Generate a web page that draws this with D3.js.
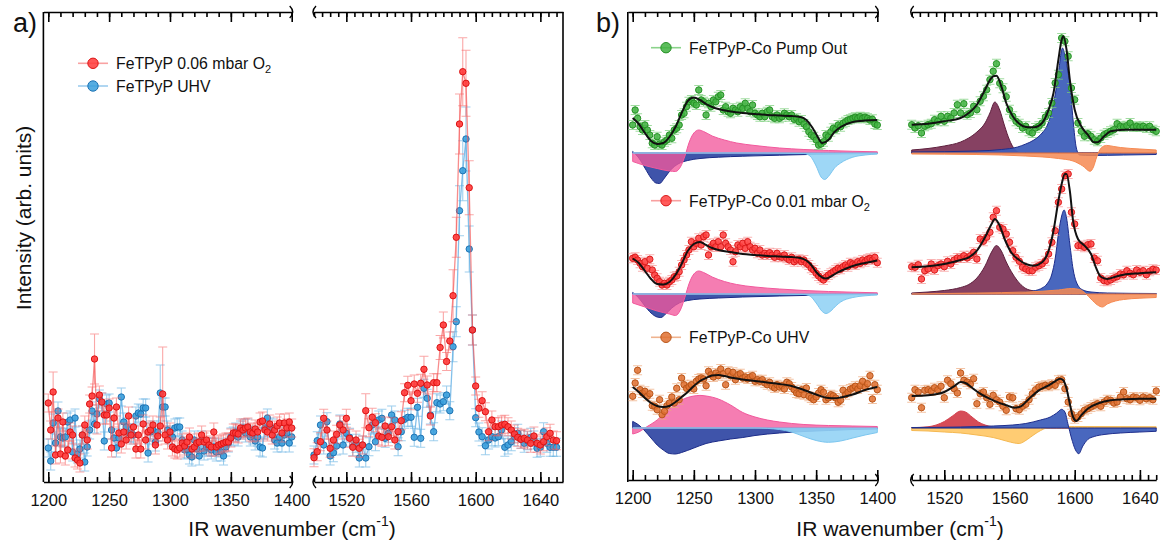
<!DOCTYPE html>
<html><head><meta charset="utf-8">
<script src="https://cdn.jsdelivr.net/npm/d3@7"></script>
<style>
body{margin:0;background:#fff}
svg{display:block}
text{font-family:"Liberation Sans",Arial,Helvetica,sans-serif;fill:#111}
</style></head>
<body><svg id="c" width="1160" height="545"></svg>
<script>
// ---------------- DATA ----------------
// wavenumber grids (cm^-1)
const wLeft = d3.range(1200, 1401, 2);   // 101 points
const wRight = d3.range(1500, 1651, 2);  // 76 points

// Panel a  (arb. units)
const aRedLeft = [7.9,5.2,9.0,2.7,6.4,2.8,6.0,2.6,3.2,5.0, 4.7,2.4,2.2,1.9,4.7,5.7,4.2,7.8,8.6,12.3, 5.7,8.7,8.0,6.7,6.7,7.4,3.4,6.4,7.5,4.9, 3.8,5.0,4.2,6.6,4.7,5.5,3.3,4.7,3.3,5.8, 4.2,5.0,5.2,5.7,3.7,4.6,5.6,8.8,4.7,4.2, 5.0,3.5,3.3,3.2,3.4,3.9,3.6,4.0,4.5,3.3, 3.5,3.9,4.0,4.7,4.0,4.2,3.7,3.5,5.0,3.5, 3.7,3.8,3.9,4.0,4.0,4.4,4.9,4.9,4.8,5.4, 5.2,5.4,5.5,5.0,4.9,5.3,5.0,6.0,6.1,5.2, 5.0,5.8,4.7,5.2,5.6,5.9,4.9,5.9,5.4,6.0, 5.4];
const aBlueLeft = [3.4,2.1,5.9,3.9,7.1,4.5,4.4,4.5,6.0,6.2, 3.0,6.4,2.8,3.3,4.7,2.0,3.5,5.2,7.1,5.8, 6.8,8.3,8.0,4.1,7.8,7.9,5.2,4.4,3.4,4.4, 8.5,6.0,5.5,4.9,4.9,4.7,6.6,6.9,6.8,7.4, 7.4,2.9,5.0,5.2,4.0,5.0,8.9,7.5,7.5,5.2, 4.7,4.5,5.4,5.5,5.5,4.2,3.2,3.3,2.7,2.5, 4.2,3.3,2.6,4.2,3.1,3.5,3.5,3.2,3.5,3.0, 3.4,3.0,2.6,3.5,3.9,4.5,4.6,5.0,4.5,5.2, 5.4,4.9,5.4,4.5,4.7,4.1,4.5,3.5,3.4,5.4, 6.4,5.5,5.4,4.2,3.9,4.5,3.9,4.7,4.9,3.9, 4.5];
const aRedRight = [2.43,3.03,4.03,6.37,5.2,3.37,4.2,4.77,5.7,5.2, 6.37,4.37,3.47,4.2,3.37,3.7,7.13,5.43,6.47,5.93, 4.6,4.47,5.6,4.53,5.53,4.2,5.03,6.13,8.93,9.67, 8.13,9.8,8.87,9.87,11.27,9.7,6.6,9.93,9.93,13.45, 15.7,12.05,14.1,18.63,24.47,35.8,41.03,39.87,29.43,15.2, 9.6,7.37,8.13,7.03,5.03,6.2,5.53,5.53,5.7,5.77, 5.53,5.2,4.8,4.47,4.27,4.37,4.2,3.87,4.6,3.87, 3.7,4.03,4.53,4.87,4.2,4.13];
const aBlueRight = [2.7,4.13,5.7,3.7,6.03,2.6,2.93,3.6,5.8,3.7, 4.87,4.47,3.53,3.87,2.4,3.7,2.4,3.53,5.7,4.03, 6.2,6.37,4.37,4.87,6.7,6.2,3.53,5.03,6.27,6.47, 6.47,4.47,7.47,4.37,9.37,8.37,6.7,5.03,7.93,7.8, 8.03,8.7,7.13,13.53,16.03,27.13,31.13,34.3,23.3,15.2, 6.43,5.0,4.53,3.63,4.2,4.53,4.4,4.53,5.2,3.47, 3.7,4.03,4.53,4.87,4.27,3.87,4.13,4.47,4.2,3.37, 3.47,5.03,3.87,3.47,3.47,3.47];
// error bars: typical value + larger ones read individually
const aErrRed = 0.9, aErrBlue = 0.9;
const aErrRedPeaks = [[1204,2.0],[1238,2.5],[1294,4.7],[1532,1.7],[1568,1.3],[1578,1.2],[1580,1.3],[1586,2.6],[1588,2.0],[1590,3.0],[1592,3.4],[1594,3.3],[1596,2.7],[1598,1.5]];
const aErrBluePeaks = [[1292,2.8],[1586,1.5],[1588,1.5],[1590,2.5],[1592,3.0],[1594,3.2],[1596,2.3],[1598,1.5]];

// Panel b : vertical offsets of the three stacked spectra
const bOffsets = [32.9, 18.8, 5.4];   // Pump Out, 0.01 mbar O2, UHV
const bGreenLeft = [2.8,4.3,3.47,2.63,2.3,2.8,2.3,1.8,0.97,0.8, 1.63,0.9,0.8,1.13,1.3,1.8,1.47,2.3,2.47,2.8, 3.8,3.97,4.63,5.13,5.3,4.97,4.8,6.3,5.3,5.13, 3.8,4.97,4.63,5.3,5.13,5.63,5.8,4.3,4.63,4.13, 3.97,4.47,4.3,4.13,4.63,4.47,4.97,4.47,4.13,4.8, 3.97,3.8,3.63,3.97,3.63,4.13,4.3,3.63,3.47,3.8, 3.47,3.63,3.97,3.8,3.63,3.8,3.37,3.47,3.13,3.3, 2.9,2.63,2.13,1.8,1.63,1.3,0.8,0.9,1.13,1.8, 1.63,2.13,2.47,2.37,2.8,2.63,2.97,3.13,3.3,3.37, 3.47,3.57,3.47,3.63,3.47,3.57,3.47,3.3,3.37,2.9, 2.8];
const bRedLeft = [3.57,3.67,3.4,3.07,2.73,3.23,2.57,3.47,2.4,1.9, 1.57,1.23,0.9,1.07,0.9,1.23,1.4,1.73,1.8,2.23, 2.9,3.4,3.9,4.4,5.23,4.73,5.07,5.57,4.9,5.73, 5.9,3.9,4.73,5.07,4.73,5.23,4.73,5.9,5.07,4.73, 4.4,3.23,4.23,4.9,4.73,5.07,4.57,5.23,4.73,4.4, 4.57,4.07,4.4,3.9,4.07,3.9,4.13,3.9,3.67,4.07, 3.73,3.67,3.9,3.57,3.4,3.67,3.23,3.4,3.47,3.23, 3.4,3.07,2.9,2.57,2.4,2.07,1.8,1.57,1.4,1.67, 1.9,2.07,2.23,2.4,2.57,2.47,2.73,2.9,2.73,3.13, 3.0,2.9,3.23,3.07,3.4,3.23,3.47,3.57,3.4,3.67, 3.13];
const bUhvLeft = [3.17,4.5,5.77,3.83,3.5,3.67,3.17,3.43,2.23,2.17, 1.83,2.83,1.33,1.67,2.23,2.5,3.1,2.5,3.97,2.83, 5.0,4.33,3.97,4.13,4.33,3.9,4.67,4.9,5.0,4.9, 4.23,5.67,5.33,5.1,5.5,5.23,5.9,5.43,4.33,5.67, 5.23,5.57,4.83,5.33,5.43,5.0,5.1,4.9,5.1,5.23, 4.67,4.83,4.67,4.83,4.5,4.33,4.57,4.17,4.0,4.33, 4.1,4.23,3.9,4.57,4.43,4.1,3.83,3.5,3.43,3.83, 3.33,4.0,3.17,3.0,2.83,3.1,3.5,3.83,3.57,2.83, 3.0,3.33,3.23,3.0,2.57,2.77,3.77,3.33,3.57,3.9, 4.0,4.17,3.9,4.23,4.67,4.1,4.43,5.23,2.9,4.33, 3.83];
const bGreenRight = [2.83,2.5,2.73,2.0,2.67,2.83,2.93,3.33,3.17,3.67, 3.17,3.67,3.5,4.0,4.83,4.0,4.93,3.83,4.0,4.67, 4.33,5.17,5.67,6.33,7.33,8.17,8.93,6.97,6.47,5.63, 4.33,3.67,3.17,2.93,2.5,2.67,2.17,2.0,2.5,2.67, 3.0,3.6,4.0,5.0,7.0,7.83,11.5,11.17,9.67,6.5, 5.33,3.0,2.17,1.67,1.93,1.67,1.33,1.17,1.5,1.83, 2.0,2.17,2.33,2.93,2.67,2.6,2.73,3.0,2.6,2.67, 2.6,2.67,2.5,2.67,2.33,2.17];
const bRedRight = [2.73,2.67,2.93,1.5,2.33,2.5,3.0,2.4,2.83,3.0, 2.73,3.27,3.0,3.4,3.6,3.6,3.83,3.6,3.83,4.17, 3.5,5.5,5.27,5.67,6.17,7.67,8.33,6.67,6.5,6.0, 5.17,4.33,3.67,3.27,2.67,2.5,2.33,2.33,2.67,2.83, 3.0,3.33,4.0,5.17,6.33,9.17,10.5,11.83,12.0,8.17, 7.0,4.83,4.83,4.67,4.93,5.0,3.6,3.33,1.6,1.33, 1.27,1.4,1.6,1.73,2.0,1.93,2.33,2.07,1.93,2.4, 2.17,2.33,1.93,2.27,2.47,2.4];
const bUhvRight = [3.03,3.83,3.6,2.03,3.77,3.83,3.7,4.03,3.83,4.17, 3.03,4.77,4.43,3.93,3.5,5.5,4.77,4.6,4.37,4.93, 2.43,3.43,3.6,3.03,2.37,3.27,2.83,2.6,2.17,1.77, 3.1,3.03,1.93,1.83,2.17,2.37,2.83,3.43,3.83,4.1, 4.17,4.27,4.17,4.37,4.27,4.77,4.83,3.93,2.6,1.43, 0.93,1.1,1.43,1.77,1.93,2.1,2.27,2.43,2.17,2.6, 2.83,2.77,2.5,2.6,3.1,3.6,2.93,2.83,3.1,3.03, 2.77,3.1,2.93,3.03,2.83,3.7];
const bErr = 0.45;

// fitted envelopes  [wavenumber, value]
const fitGreenLeft = [[1200,3.5],[1205,2.9],[1210,2.0],[1215,1.2],[1220,0.9],[1225,1.0],[1230,1.6],[1235,2.6],[1240,4.0],[1245,5.2],[1250,5.55],[1255,5.3],[1260,4.9],[1265,4.6],[1270,4.4],[1280,4.15],[1290,4.0],[1300,3.9],[1310,3.8],[1320,3.75],[1330,3.7],[1337,3.6],[1342,3.3],[1346,2.7],[1350,1.9],[1355,1.0],[1360,1.3],[1365,2.1],[1370,2.6],[1380,3.1],[1390,3.25],[1400,3.3]];
const fitRedLeft = [[1200,3.55],[1205,3.1],[1210,2.3],[1215,1.5],[1220,1.0],[1225,0.95],[1230,1.2],[1235,1.9],[1240,3.0],[1245,4.3],[1250,5.0],[1255,5.2],[1260,4.9],[1265,4.6],[1270,4.4],[1280,4.2],[1290,4.0],[1300,3.9],[1310,3.8],[1320,3.75],[1330,3.7],[1337,3.6],[1342,3.35],[1346,2.9],[1350,2.2],[1355,1.65],[1358,1.55],[1362,1.75],[1366,2.05],[1370,2.3],[1380,2.8],[1390,3.1],[1400,3.35]];
const fitUhvLeft = [[1200,4.1],[1205,3.6],[1210,3.0],[1215,2.5],[1220,2.2],[1225,2.1],[1230,2.2],[1235,2.6],[1240,3.1],[1245,3.6],[1250,4.2],[1255,4.7],[1260,5.0],[1265,5.25],[1270,5.3],[1275,5.2],[1280,5.05],[1290,4.85],[1300,4.7],[1310,4.55],[1320,4.4],[1330,4.2],[1340,3.8],[1350,3.35],[1360,3.0],[1365,2.98],[1370,3.05],[1380,3.35],[1390,3.8],[1400,4.1]];
const fitGreenRight = [[1500,2.83],[1510,2.93],[1520,3.17],[1530,3.5],[1535,4.0],[1540,4.83],[1545,6.33],[1548,7.3],[1550,7.67],[1552,7.73],[1555,6.67],[1558,5.0],[1562,3.67],[1566,2.93],[1570,2.6],[1575,2.57],[1580,3.0],[1584,4.33],[1587,6.0],[1590,9.33],[1592,11.33],[1593,11.67],[1595,10.33],[1597,7.33],[1600,4.33],[1604,2.67],[1608,1.83],[1612,1.07],[1614,1.07],[1618,1.67],[1622,2.17],[1630,2.33],[1640,2.33],[1650,2.33]];
const fitRedRight = [[1500,2.67],[1510,2.77],[1520,3.0],[1530,3.4],[1535,3.67],[1540,4.33],[1545,5.67],[1549,7.0],[1551,7.5],[1554,6.83],[1557,5.5],[1561,4.17],[1566,3.4],[1570,3.0],[1575,2.83],[1580,3.17],[1584,4.33],[1587,6.33],[1590,9.33],[1592,11.0],[1594,12.0],[1595,12.0],[1597,10.33],[1599,7.33],[1602,5.5],[1606,4.83],[1610,4.0],[1613,2.67],[1616,1.73],[1620,1.5],[1625,1.73],[1630,1.93],[1640,2.07],[1650,2.17]];
const fitUhvRight = [[1500,3.2],[1510,3.27],[1520,3.6],[1526,4.17],[1530,4.6],[1533,4.5],[1537,4.03],[1542,3.43],[1550,2.77],[1558,2.27],[1563,2.03],[1567,2.17],[1572,2.93],[1578,3.77],[1584,4.27],[1588,4.67],[1591,4.93],[1593,4.77],[1595,3.93],[1597,2.43],[1599,1.1],[1601,0.7],[1604,1.27],[1608,1.93],[1615,2.5],[1622,2.77],[1630,2.87],[1640,2.93],[1650,2.93]];

// fit components [wavenumber, value relative to each spectrum's baseline]
const cGreenNavy = [[1200,0.15],[1205,-0.5],[1210,-1.5],[1215,-2.5],[1219,-3.0],[1222,-3.05],[1226,-2.5],[1231,-1.7],[1237,-1.1],[1245,-0.75],[1255,-0.55],[1270,-0.42],[1290,-0.32],[1320,-0.22],[1350,-0.13],[1400,-0.06]];
const cGreenPink = [[1200,-0.85],[1210,-1.25],[1220,-1.55],[1230,-1.8],[1235,-1.85],[1239,-1.4],[1243,-0.2],[1246,1.0],[1250,2.0],[1254,2.3],[1258,2.15],[1265,1.7],[1275,1.3],[1285,1.0],[1300,0.75],[1320,0.5],[1340,0.35],[1360,0.25],[1380,0.17],[1400,0.12]];
const cGreenSky = [[1200,0],[1300,0],[1340,-0.05],[1345,-0.3],[1350,-1.3],[1354,-2.4],[1357,-2.65],[1361,-2.2],[1365,-1.5],[1370,-1.0],[1380,-0.42],[1390,-0.2],[1400,-0.1]];
const cRedNavy = [[1200,0.15],[1205,-0.4],[1210,-1.2],[1215,-1.9],[1220,-2.3],[1223,-2.35],[1227,-2.0],[1232,-1.4],[1238,-0.9],[1245,-0.65],[1255,-0.5],[1270,-0.4],[1290,-0.3],[1320,-0.2],[1350,-0.12],[1400,-0.05]];
const cRedPink = [[1200,-0.9],[1210,-1.3],[1220,-1.7],[1230,-2.0],[1235,-2.15],[1239,-1.6],[1243,-0.2],[1246,1.0],[1250,2.0],[1254,2.3],[1258,2.15],[1265,1.7],[1275,1.25],[1285,0.95],[1300,0.7],[1320,0.5],[1340,0.35],[1360,0.25],[1380,0.18],[1400,0.12]];
const cRedSky = [[1200,0],[1300,0],[1340,-0.05],[1345,-0.2],[1350,-0.9],[1355,-1.75],[1358,-1.95],[1362,-1.7],[1366,-1.2],[1370,-0.8],[1380,-0.35],[1390,-0.18],[1400,-0.1]];
const cUhvNavy = [[1200,0.66],[1205,0.3],[1210,-0.3],[1215,-1.0],[1220,-1.7],[1225,-2.2],[1230,-2.55],[1235,-2.6],[1240,-2.45],[1250,-2.0],[1260,-1.55],[1270,-1.3],[1280,-1.1],[1290,-0.95],[1300,-0.75],[1320,-0.5],[1340,-0.35],[1360,-0.25],[1380,-0.15],[1400,-0.1]];
const cUhvPink = [[1200,-0.6],[1205,-0.4],[1210,0],[1220,0.8],[1230,1.9],[1240,2.8],[1250,3.2],[1255,3.26],[1260,3.2],[1270,2.9],[1280,2.3],[1290,1.55],[1300,1.1],[1310,0.8],[1320,0.6],[1340,0.35],[1360,0.25],[1380,0.2],[1400,0.15]];
const cUhvSky = [[1200,0],[1300,0],[1320,-0.15],[1330,-0.4],[1340,-0.85],[1350,-1.25],[1360,-1.43],[1370,-1.3],[1380,-1.0],[1390,-0.7],[1400,-0.45]];
const cGreenMaroon = [[1500,0.3],[1510,0.45],[1520,0.7],[1530,1.1],[1535,1.5],[1540,2.1],[1545,3.0],[1548,4.0],[1551,5.1],[1554,4.3],[1557,2.7],[1560,1.3],[1563,0.4],[1566,0.05],[1570,0],[1650,0]];
const cGreenBlue = [[1500,0.1],[1540,0.2],[1555,0.35],[1565,0.6],[1570,0.9],[1575,1.3],[1580,2.0],[1583,2.7],[1586,4.2],[1588,5.8],[1590,8.0],[1592.5,10.5],[1594,9.8],[1596,8.0],[1597,7.0],[1599,3.3],[1601,0.5],[1603,-0.2],[1610,-0.25],[1630,-0.2],[1650,-0.15]];
const cGreenOrange = [[1500,-0.1],[1540,-0.15],[1570,-0.3],[1590,-0.55],[1599,-0.8],[1605,-1.3],[1609.5,-1.83],[1611.5,-1.4],[1613.5,-0.4],[1616.5,0.55],[1619.5,0.76],[1624,0.65],[1628,0.55],[1640,0.4],[1650,0.3]];
const cRedMaroon = [[1500,0.1],[1510,0.2],[1520,0.35],[1530,0.65],[1535,0.95],[1540,1.6],[1545,2.8],[1549,4.2],[1552,4.85],[1555,4.3],[1558,3.2],[1562,2.0],[1566,1.1],[1570,0.55],[1575,0.3],[1580,0.15],[1590,0.05],[1650,0]];
const cRedBlue = [[1500,0.02],[1560,0.1],[1570,0.2],[1576,0.35],[1580,0.6],[1583,1.0],[1586,2.0],[1588,3.5],[1590,6.0],[1592,7.8],[1593.5,8.4],[1595,7.6],[1597,5.0],[1599,2.5],[1601,1.2],[1605,0.4],[1610,0.2],[1620,0.1],[1650,0.05]];
const cRedOrange = [[1500,0],[1540,0.1],[1570,0.2],[1590,0.4],[1598,0.55],[1603,0.45],[1607,0],[1610,-0.5],[1614,-1.1],[1617,-1.3],[1620,-1.0],[1625,-0.7],[1630,-0.55],[1640,-0.42],[1650,-0.35]];
const cUhvRed = [[1500,0.03],[1510,0.12],[1515,0.3],[1520,0.65],[1525,1.2],[1530,1.7],[1533,1.6],[1537,1.1],[1541,0.6],[1545,0.3],[1550,0.12],[1560,0.04],[1570,0],[1650,0]];
const cUhvYellow = [[1500,-0.25],[1510,-0.3],[1520,-0.4],[1530,-0.5],[1540,-0.7],[1550,-0.95],[1558,-1.3],[1563,-1.5],[1566,-1.55],[1569,-1.35],[1573,-0.9],[1577,-0.45],[1581,-0.1],[1585,0.1],[1600,0.15],[1650,0.12]];
const cUhvBlue = [[1500,0.05],[1530,0.1],[1550,0.2],[1562,0.3],[1570,0.45],[1579,0.8],[1585,1.1],[1589,1.5],[1592,1.87],[1594,1.6],[1596,0.3],[1598,-1.0],[1600.5,-2.2],[1602.5,-2.57],[1605,-1.8],[1608,-1.15],[1612,-0.85],[1618,-0.65],[1628,-0.5],[1640,-0.4],[1650,-0.33]];

// ticks and labels
const majorLeft = [1200,1250,1300,1350,1400];
const minorLeft = d3.range(1200,1401,10);
const majorRight = [1520,1560,1600,1640];
const legendA = ["FeTPyP 0.06 mbar O", "FeTPyP UHV"];
const legendB = ["FeTPyP-Co Pump Out", "FeTPyP-Co 0.01 mbar O", "FeTPyP-Co UHV"];

// ---------------- DRAWING ----------------
const svg = d3.select("#c");
const Y = d3.scaleLinear().domain([0,47]).range([482,12]);
const xaL = d3.scaleLinear().domain([1196,1400]).range([43.4,291.7]);
const xaR = d3.scaleLinear().domain([1500,1654]).range([314,563]);
const xbL = d3.scaleLinear().domain([1196,1400]).range([627.8,877.3]);
const xbR = d3.scaleLinear().domain([1500,1650]).range([911.7,1156.2]);

function axis(x, yPos, majors, minors, orient, labels){
  const g = svg.append("g").attr("transform",`translate(0,${yPos})`);
  const mk = orient==="bottom" ? d3.axisBottom : d3.axisTop;
  g.call(mk(x).tickValues(majors).tickSizeInner(-10).tickSizeOuter(0).tickPadding(12)
    .tickFormat(labels ? d3.format("d") : ""));
  const m = g.append("g").call(mk(x).tickValues(minors).tickSizeInner(-5).tickSizeOuter(0).tickFormat(""));
  m.select(".domain").remove();
  g.selectAll("line,path").attr("stroke","#000").attr("stroke-width",1.6);
  g.selectAll("text").attr("font-size",16.5).attr("fill","#111")
    .style("font-family",'"Liberation Sans",Arial,sans-serif');
}
function vline(x, y0, y1){
  svg.append("line").attr("x1",x).attr("x2",x).attr("y1",y0).attr("y2",y1)
    .attr("stroke","#000").attr("stroke-width",1.6);
}
function brk(x, y, dir){
  svg.append("path").attr("d",`M${x-2*dir},${y-6} Q${x+4*dir},${y} ${x-2*dir},${y+6}`)
    .attr("fill","none").attr("stroke","#000").attr("stroke-width",1.4);
}

// panel a axes
axis(xaL, 482, majorLeft, minorLeft, "bottom", true);
axis(xaL, 12, majorLeft, minorLeft, "top", false);
axis(xaR, 482, majorRight, d3.range(1500,1655,5), "bottom", true);
axis(xaR, 12, majorRight, d3.range(1500,1655,5), "top", false);
vline(xaL.range()[0], 12, 482);
vline(xaR.range()[1], 12, 482);
brk(xaL(1400), 482, 1); brk(xaL(1400), 12, 1);
brk(xaR(1500), 482, -1); brk(xaR(1500), 12, -1);

// panel b axes
axis(xbL, 480, majorLeft, minorLeft, "bottom", true);
axis(xbL, 12, majorLeft, minorLeft, "top", false);
axis(xbR, 480, majorRight, d3.range(1500,1651,5), "bottom", true);
axis(xbR, 12, majorRight, d3.range(1500,1651,5), "top", false);
vline(xbL.range()[0], 12, 482);
brk(xbL(1400), 480, 1); brk(xbL(1400), 12, 1);
brk(xbR(1500), 480, -1); brk(xbR(1500), 12, -1);

// generic series (points + error bars)
function points(ws, vals, x, off, errDef, errMap, st, connect){
  const pts = ws.map((w,i)=>({w, v: off+vals[i], e: (errMap && errMap.has(w)) ? errMap.get(w) : errDef}));
  const g = svg.append("g");
  if(connect){
    g.append("path").datum(pts).attr("fill","none").attr("stroke",st.line).attr("stroke-width",1.3)
      .attr("d", d3.line().x(d=>x(d.w)).y(d=>Y(d.v)));
  }
  const eb = g.append("g").attr("stroke",st.err).attr("stroke-width",1.1).attr("fill","none");
  pts.forEach(d=>{
    const cx = x(d.w), y0 = Y(d.v-d.e), y1 = Y(d.v+d.e);
    eb.append("path").attr("d",`M${cx},${y0}V${y1}M${cx-4.5},${y0}H${cx+4.5}M${cx-4.5},${y1}H${cx+4.5}`);
  });
  g.selectAll("circle").data(pts).join("circle")
    .attr("cx",d=>x(d.w)).attr("cy",d=>Y(d.v)).attr("r",st.r)
    .attr("fill",st.fill).attr("fill-opacity",st.fo).attr("stroke",st.stroke).attr("stroke-width",1);
}
const stBlueA = {fill:"#3a9fdc", fo:0.9, stroke:"#1f74b4", err:"rgba(95,175,225,0.6)", line:"rgba(80,165,225,0.7)", r:3.2};
const stRedA  = {fill:"#ff3a3a", fo:0.9, stroke:"#dc1414", err:"rgba(245,95,95,0.55)", line:"rgba(245,80,80,0.65)", r:3.2};
points(wLeft, aBlueLeft, xaL, 0, aErrBlue, new Map(aErrBluePeaks), stBlueA, true);
points(wRight, aBlueRight, xaR, 0, aErrBlue, new Map(aErrBluePeaks), stBlueA, true);
points(wLeft, aRedLeft, xaL, 0, aErrRed, new Map(aErrRedPeaks), stRedA, true);
points(wRight, aRedRight, xaR, 0, aErrRed, new Map(aErrRedPeaks), stRedA, true);

// panel b components
function comp(data, x, off, fill, fo, stroke){
  const a = d3.area().x(d=>x(d[0])).y0(Y(off)).y1(d=>Y(off+d[1])).curve(d3.curveMonotoneX);
  svg.append("path").datum(data).attr("d",a).attr("fill",fill).attr("fill-opacity",fo)
    .attr("stroke",stroke).attr("stroke-width",1);
}
const colNavy="#2f45a3", colNavyS="#1b2b88", colPink="#f2589c", colSky="#93d3f5", colSkyS="#7cc6ef";
const colMaroon="#80375a", colMaroonS="#5d1f3c", colBlue="#3f5fba", colBlueS="#1d2d8c", colOrange="#f68a52", colCrimson="#d4424e", colYellow="#ffc764";

const leftComps = [[cGreenNavy,cGreenPink,cGreenSky],[cRedNavy,cRedPink,cRedSky],[cUhvNavy,cUhvPink,cUhvSky]];
const rightComps = [[cGreenMaroon,cGreenBlue,cGreenOrange],[cRedMaroon,cRedBlue,cRedOrange],[cUhvRed,cUhvYellow,cUhvBlue]];
leftComps.forEach((c,i)=>{
  comp(c[0], xbL, bOffsets[i], colNavy, 0.92, colNavyS);
  comp(c[1], xbL, bOffsets[i], colPink, 0.78, colPink);
  comp(c[2], xbL, bOffsets[i], colSky, 0.9, colSkyS);
});
[0,1].forEach(i=>{
  comp(rightComps[i][0], xbR, bOffsets[i], colMaroon, 0.95, colMaroonS);
  comp(rightComps[i][1], xbR, bOffsets[i], colBlue, 0.95, colBlueS);
  comp(rightComps[i][2], xbR, bOffsets[i], colOrange, 0.85, colOrange);
});
comp(cUhvRed, xbR, bOffsets[2], colCrimson, 0.95, colCrimson);
comp(cUhvYellow, xbR, bOffsets[2], colYellow, 0.9, "#f5b850");
comp(cUhvBlue, xbR, bOffsets[2], colBlue, 0.95, colBlueS);

// panel b data
const stGreen = {fill:"#3fb23f", fo:0.85, stroke:"#279127", err:"rgba(120,205,120,0.7)", r:3.2};
const stRedB  = {fill:"#ff4040", fo:0.85, stroke:"#da1c1c", err:"rgba(245,130,130,0.6)", r:3.2};
const stOrgB  = {fill:"#df7030", fo:0.85, stroke:"#b9561a", err:"rgba(238,170,125,0.7)", r:3.2};
const bSeries = [[bGreenLeft,bGreenRight,stGreen],[bRedLeft,bRedRight,stRedB],[bUhvLeft,bUhvRight,stOrgB]];
bSeries.forEach((s,i)=>{
  points(wLeft, s[0], xbL, bOffsets[i], bErr, null, s[2], false);
  points(wRight, s[1], xbR, bOffsets[i], bErr, null, s[2], false);
});
// fits
const fits = [[fitGreenLeft,fitGreenRight],[fitRedLeft,fitRedRight],[fitUhvLeft,fitUhvRight]];
fits.forEach((f,i)=>{
  [[f[0],xbL],[f[1],xbR]].forEach(([d,x])=>{
    svg.append("path").datum(d).attr("fill","none").attr("stroke","#111").attr("stroke-width",2)
      .attr("d", d3.line().x(p=>x(p[0])).y(p=>Y(bOffsets[i]+p[1])).curve(d3.curveMonotoneX));
  });
});

// legends
function legendRow(x0, yc, label, sub, st, lineCol){
  svg.append("line").attr("x1",x0).attr("x2",x0+30).attr("y1",yc).attr("y2",yc)
    .attr("stroke",lineCol).attr("stroke-width",1.6);
  svg.append("circle").attr("cx",x0+15).attr("cy",yc).attr("r",5.2)
    .attr("fill",st.fill).attr("fill-opacity",0.85).attr("stroke",st.stroke).attr("stroke-width",1);
  const t = svg.append("text").attr("x",x0+38).attr("y",yc+5.8).attr("font-size",15.8).text(label);
  if(sub) t.append("tspan").attr("dy",4).attr("font-size",11).text(sub);
}
legendRow(78, 63.3, legendA[0], "2", stRedA, "rgba(245,100,100,0.6)");
legendRow(78, 86, legendA[1], null, stBlueA, "rgba(90,170,225,0.6)");
legendRow(651, 47.7, legendB[0], null, stGreen, "rgba(110,200,110,0.8)");
legendRow(651, 200.7, legendB[1], "2", stRedB, "rgba(245,120,120,0.7)");
legendRow(651, 337.3, legendB[2], null, stOrgB, "rgba(235,160,115,0.8)");

// panel letters & titles
svg.append("text").attr("x",13).attr("y",32).attr("font-size",27).text("a)");
svg.append("text").attr("x",596).attr("y",32).attr("font-size",27).text("b)");
function xTitle(cx){
  const t = svg.append("text").attr("x",cx).attr("y",536).attr("text-anchor","middle").attr("font-size",21)
    .text("IR wavenumber (cm");
  t.append("tspan").attr("dy",-10).attr("font-size",14).text("-1");
  t.append("tspan").attr("dy",10).text(")");
}
xTitle(292); xTitle(900);
svg.append("text").attr("transform","translate(31,218) rotate(-90)").attr("text-anchor","middle")
  .attr("font-size",21).text("Intensity (arb. units)");
</script></body></html>
